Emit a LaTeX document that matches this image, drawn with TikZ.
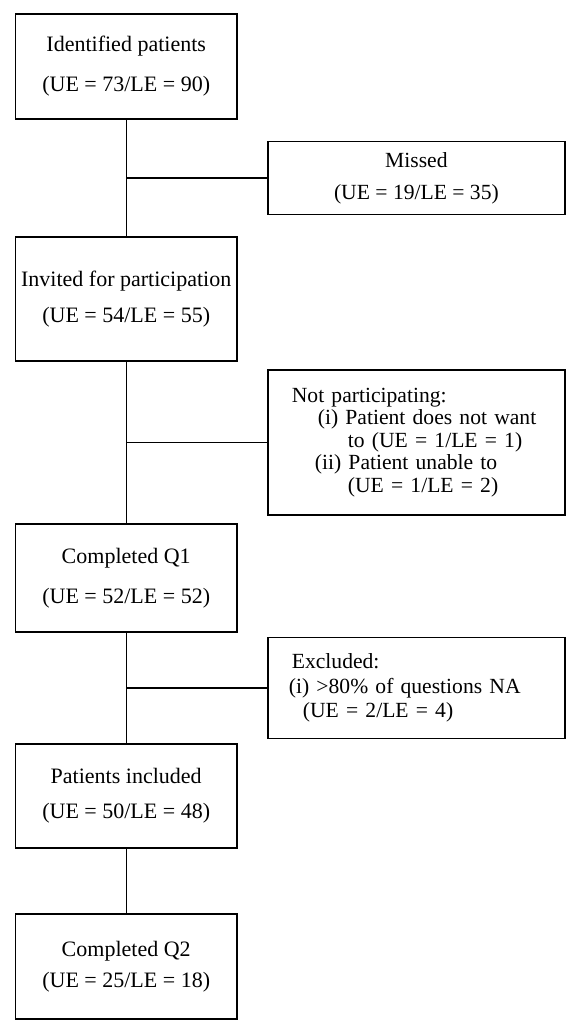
\documentclass[tikz,border=0pt]{standalone}
\usepackage{fontspec}
\setmainfont{Liberation Serif}
\usetikzlibrary{calc}
\tikzstyle{stage} = [rectangle, minimum width=110.75pt, inner xsep=2pt, align=center, draw=black, line width=0.7pt, font=\fontsize{11}{13}\selectfont]
\tikzstyle{side} = [rectangle, minimum width=148.5pt, draw=black, line width=0.7pt, font=\fontsize{10.8}{11.3}\selectfont]
\tikzstyle{list} = [side, text width=124.5pt, align=left, inner xsep=12pt]
\tikzstyle{line} = [draw, line width=0.7pt]

\begin{document}
\begin{tikzpicture}
        \useasboundingbox (0,0) rectangle (290pt,-517pt);
        \node (ident) [stage, minimum height=52.5pt] at (63.1pt,-33.25pt) {Identified patients\\[7pt](UE = 73/LE = 90)};
        \node (invited) [stage, minimum height=62pt, below of=ident, node distance=116.25pt] {Invited for participation\\[5pt](UE = 54/LE = 55)};
        \node (qone) [stage, minimum height=54pt, below of=invited, node distance=139.5pt] {Completed Q1\\[7pt](UE = 52/LE = 52)};
        \node (included) [stage, minimum height=52pt, below of=qone, node distance=109pt] {Patients included\\[4.5pt](UE = 50/LE = 48)};
        \node (qtwo) [stage, minimum height=52.5pt, below of=included, node distance=85.25pt] {Completed Q2\\[2.5pt](UE = 25/LE = 18)};

        \node (missed) [side, align=center, minimum height=36.5pt] at ($(ident.south)!0.5!(invited.north) + (145.1pt,0)$) {Missed\\[4.5pt](UE = 19/LE = 35)};
        \node (notpart) [list, minimum height=72.5pt] at ($(invited.south)!0.5!(qone.north) + (145.1pt,0)$) {Not participating:\\
            \hspace*{13pt}(i) Patient does not want\\
            \hspace*{28pt}to (UE = 1/LE = 1)\\
            \hspace*{11.5pt}(ii) Patient unable to\\
            \hspace*{28pt}(UE = 1/LE = 2)};
        \node (excluded) [list, minimum height=50.5pt] at ($(qone.south)!0.5!(included.north) + (145.1pt,0)$) {Excluded:\\[1pt]
            \hspace*{-1.5pt}(i) >80\% of questions NA\\[1pt]
            \hspace*{5.5pt}(UE = 2/LE = 4)};

        \path [line] (ident) -- (invited);
        \path [line] (invited) -- (qone);
        \path [line] (qone) -- (included);
        \path [line] (included) -- (qtwo);
        \path [line] (missed.west) -- (missed.west -| ident.south);
        \path [line] (notpart.west) -- (notpart.west -| invited.south);
        \path [line] (excluded.west) -- (excluded.west -| qone.south);
    \end{tikzpicture}
\end{document}
